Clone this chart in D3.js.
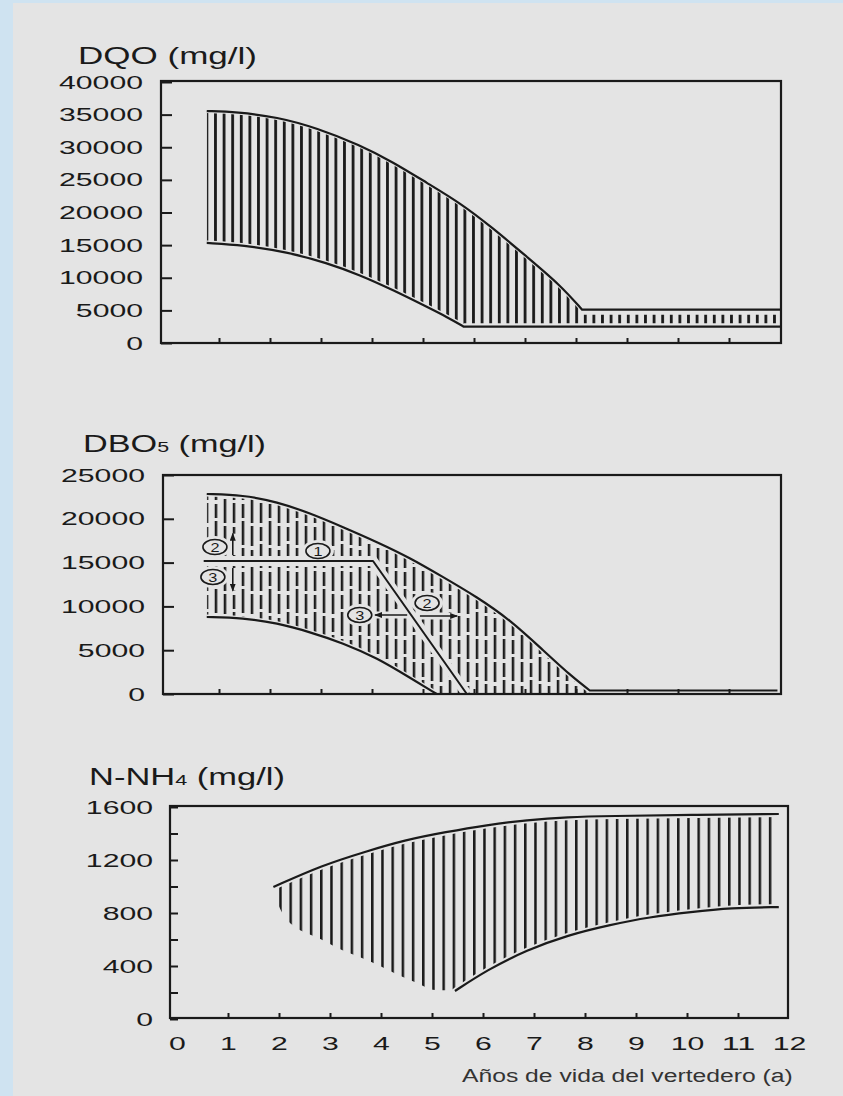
<!DOCTYPE html>
<html>
<head>
<meta charset="utf-8">
<script src="https://cdn.jsdelivr.net/npm/d3@7"></script>
<style>
  body { margin: 0; background: #cfe3f1; }
  svg { display: block; font-family: "Liberation Sans", Arial, sans-serif; }
</style>
</head>
<body>
<svg id="chart" width="843" height="1096"></svg>
<script>
// values, [year, mg/l]
var dqoUpper = [[0.76,35550],[1.35,35400],[2.14,34640],[2.92,32950],[3.76,30340],[4.41,27740],[5.08,24520],[5.73,21460],[6.37,17620],[7.04,13180],[7.69,8890],[8.12,5100],[12,5100]];
var dqoLower = [[0.76,15330],[1.47,15020],[2.33,13950],[3.12,12260],[3.76,10420],[4.41,8120],[5.08,5520],[5.47,3980],[5.8,2500],[12,2500]];

var dboUpper = [[0.76,22830],[1.47,22720],[2.14,21920],[2.78,20660],[3.43,19060],[4.1,17350],[4.75,15530],[5.39,13360],[6.06,11070],[6.71,8450],[7.35,5020],[7.88,2170],[8.27,400],[11.95,400]];
var dboLower = [[0.76,8790],[1.47,8680],[2.14,8100],[2.78,7080],[3.43,5820],[4.1,4110],[4.75,1830],[5.27,0]];
var dboSplit = [[0.7,15180],[4.02,15180],[5.86,0]];
var dboMarks = [
  { label: "2", t: 0.92, v: 16780 },
  { label: "1", t: 2.94, v: 16320 },
  { label: "3", t: 0.88, v: 13360 },
  { label: "3", t: 3.76, v: 9020 },
  { label: "2", t: 5.08, v: 10390 }
];
var dboArrows = [
  { from: [1.27, 15870], to: [1.27, 18300] },
  { from: [1.27, 14380], to: [1.27, 11800] },
  { from: [4.69, 9020], to: [4.06, 9020] },
  { from: [4.94, 8900], to: [5.67, 8900] }
];

var nh4Upper = [[1.89,996],[2.86,1162],[3.67,1260],[4.47,1351],[5.27,1411],[6.08,1464],[6.86,1502],[7.67,1525],[8.47,1532],[10.08,1540],[11.8,1547]];
var nh4Lower = [[5.45,211],[6.08,370],[6.86,521],[7.67,634],[8.47,709],[9.27,770],[10.08,808],[10.86,838],[11.8,845]];
// ends of the hatch strokes on the left, where no line is drawn
var nh4HatchEdge = [[1.89,990],[2.03,785],[2.39,659],[2.79,617],[3.19,521],[3.59,470],[3.99,400],[4.39,319],[4.75,269],[4.95,219],[5.19,219]];

var dqoTicks = [0,5000,10000,15000,20000,25000,30000,35000,40000];
var dboTicks = [0,5000,10000,15000,20000,25000];
var nh4Ticks = [0,200,400,600,800,1000,1200,1400,1600];
var nh4Labels = [0,400,800,1200,1600];
var innerYears = [1,2,3,4,5,6,7,8,9,10,11];
var yearLabels = [0,1,2,3,4,5,6,7,8,9,10,11,12];

var ink = "#1a1a1a", paper = "#e4e4e4";
var fontStack = '"Liberation Sans", Arial, sans-serif';

var svg = d3.select("#chart");
var defs = svg.append("defs");

svg.append("rect")
    .attr("x", 13).attr("y", 3)
    .attr("width", 830).attr("height", 1093)
    .attr("fill", paper);

// stretch text horizontally, the scanned lettering is very wide
function stretchDigits(sel, xPos) {
    sel.each(function () {
        var n = this.textContent.length;
        if (!n) return;
        var sx = 16.8 * n / this.getComputedTextLength();
        d3.select(this).attr("x", xPos / sx).attr("transform", `scale(${sx},1)`);
    });
}

function fitText(sel, x, y, width) {
    var sx = width / sel.node().getComputedTextLength();
    sel.attr("transform", `translate(${x},${y}) scale(${sx},1)`);
}

function makePanel(o) {
    var p = Object.assign({}, o);
    p.x = d3.scaleLinear().domain([0, 12]).range([o.x0, o.x12]);
    p.y = d3.scaleLinear().domain([0, o.max]).range([o.yZero, o.yMax]);
    p.g = svg.append("g");
    return p;
}

// smooth curve, then the last `tail` points joined straight (sharp corner)
function bandLine(p, pts, tail) {
    var curved = pts.slice(0, pts.length - tail);
    var d = d3.line().x(q => p.x(q[0])).y(q => p.y(q[1])).curve(d3.curveBasis)(curved);
    pts.slice(pts.length - tail).forEach(q => { d += "L" + p.x(q[0]) + "," + p.y(q[1]); });
    return d;
}

function closeTo(p, pts, d, yPx) {
    return d + "L" + p.x(pts[pts.length - 1][0]) + "," + yPx + "L" + p.x(pts[0][0]) + "," + yPx + "Z";
}

function hatch(p, id, underD, aboveDs, patternId) {
    defs.append("clipPath").attr("id", id + "-u").append("path").attr("d", underD);
    var ca = defs.append("clipPath").attr("id", id + "-a");
    aboveDs.forEach(d => ca.append("path").attr("d", d));
    p.g.append("g").attr("clip-path", `url(#${id}-u)`)
        .append("g").attr("clip-path", `url(#${id}-a)`)
        .append("rect")
        .attr("x", p.left).attr("y", p.top)
        .attr("width", p.right - p.left).attr("height", p.bottom - p.top)
        .attr("fill", `url(#${patternId})`);
}

function halo(p, d, w) {
    p.g.append("path").attr("d", d).attr("fill", "none")
        .attr("stroke", paper).attr("stroke-width", w);
}

function inkLine(p, d, w) {
    p.g.append("path").attr("d", d).attr("fill", "none")
        .attr("stroke", ink).attr("stroke-width", w || 2.2)
        .attr("stroke-linejoin", "round");
}

function frame(p) {
    p.g.append("rect")
        .attr("x", p.left).attr("y", p.top)
        .attr("width", p.right - p.left).attr("height", p.bottom - p.top)
        .attr("fill", "none").attr("stroke", ink).attr("stroke-width", 2.2);
}

function yAxis(p, ticks, labels, len, pad) {
    var a = p.g.append("g")
        .attr("transform", `translate(${p.left},0)`)
        .call(d3.axisLeft(p.y).tickValues(ticks).tickSize(-len).tickSizeOuter(0)
            .tickPadding(pad).tickFormat(d => labels.indexOf(d) >= 0 ? d : ""));
    a.select(".domain").remove();
    a.attr("font-family", fontStack).attr("font-size", 19);
    a.selectAll(".tick line").attr("stroke", ink).attr("stroke-width", 2);
    a.selectAll(".tick text").attr("fill", ink);
    stretchDigits(a.selectAll(".tick text"), -pad);
    return a;
}

function xTicks(p, len) {
    var a = p.g.append("g")
        .attr("transform", `translate(0,${p.bottom})`)
        .call(d3.axisBottom(p.x).tickValues(innerYears).tickSize(-len).tickSizeOuter(0).tickFormat(""));
    a.select(".domain").remove();
    a.selectAll(".tick line").attr("stroke", ink).attr("stroke-width", 2);
    return a;
}

function hatchPattern(id, step, x0, width) {
    var pat = defs.append("pattern").attr("id", id)
        .attr("patternUnits", "userSpaceOnUse")
        .attr("x", x0 - 1.3).attr("y", 0)
        .attr("width", step).attr("height", 20);
    pat.append("rect").attr("width", width).attr("x", 0).attr("height", 20).attr("fill", ink);
}

// ---------- DQO ----------
var p1 = makePanel({ left: 161, right: 781, top: 81, bottom: 343, x0: 168, x12: 780, yZero: 343, yMax: 82, max: 40000 });
hatchPattern("hatch-dqo", 8.6, p1.x(dqoUpper[0][0]), 2.8);

var d1u = bandLine(p1, dqoUpper, 1), d1l = bandLine(p1, dqoLower, 1);
hatch(p1, "c1", closeTo(p1, dqoUpper, d1u, p1.bottom + 4), [closeTo(p1, dqoLower, d1l, p1.top - 4)], "hatch-dqo");
halo(p1, d1u, 4); halo(p1, d1l, 5);
// the late flat band has short dashes only
halo(p1, bandLine(p1, dqoUpper.slice(-2), 1), 10);
halo(p1, bandLine(p1, dqoLower.slice(-2), 1), 7);
inkLine(p1, d1u); inkLine(p1, d1l);
frame(p1);
yAxis(p1, dqoTicks, dqoTicks, 11, 18);
xTicks(p1, 5);

p1.g.append("text").attr("fill", ink).attr("font-size", 24).text("DQO (mg/l)")
    .call(fitText, 78, 64, 179);

// ---------- DBO5 ----------
var p2 = makePanel({ left: 163, right: 781, top: 475, bottom: 694, x0: 168, x12: 780, yZero: 694, yMax: 475, max: 25000 });
var pat2 = defs.append("pattern").attr("id", "hatch-dbo")
    .attr("patternUnits", "userSpaceOnUse")
    .attr("x", p2.x(dboUpper[0][0]) - 1).attr("y", 0)
    .attr("width", 27).attr("height", 68);
[0, 23, 45].forEach((off, i) => {
    pat2.append("line")
        .attr("x1", 1.2 + i * 9).attr("x2", 1.2 + i * 9)
        .attr("y1", 0).attr("y2", 68)
        .attr("stroke", ink).attr("stroke-width", 2.5)
        .attr("stroke-dasharray", "24 3 20 4 14 3")
        .attr("stroke-dashoffset", off);
});

var d2u = bandLine(p2, dboUpper, 1), d2l = bandLine(p2, dboLower, 0);
var lastLow = dboLower[dboLower.length - 1];
hatch(p2, "c2", closeTo(p2, dboUpper, d2u, p2.bottom + 4), [
    closeTo(p2, dboLower, d2l, p2.top - 4),
    `M${p2.x(lastLow[0])},${p2.top}H${p2.right}V${p2.bottom + 4}H${p2.x(lastLow[0])}Z`
], "hatch-dbo");

var dSplit = d3.line().x(q => p2.x(q[0])).y(q => p2.y(q[1]))(dboSplit);
halo(p2, d2u, 5); halo(p2, d2l, 5); halo(p2, dSplit, 10);

defs.append("marker").attr("id", "head")
    .attr("markerUnits", "userSpaceOnUse")
    .attr("viewBox", "0 0 8 6").attr("refX", 7).attr("refY", 3)
    .attr("markerWidth", 8).attr("markerHeight", 6).attr("orient", "auto")
    .append("path").attr("d", "M0,0L8,3L0,6Z").attr("fill", ink);

dboArrows.forEach(a => {
    var d = d3.line()([[p2.x(a.from[0]), p2.y(a.from[1])], [p2.x(a.to[0]), p2.y(a.to[1])]]);
    halo(p2, d, 7);
});
p2.g.selectAll("ellipse.halo").data(dboMarks).join("ellipse")
    .attr("cx", d => p2.x(d.t)).attr("cy", d => p2.y(d.v))
    .attr("rx", 16).attr("ry", 11).attr("fill", paper);

inkLine(p2, d2u); inkLine(p2, d2l); inkLine(p2, dSplit, 2);

var marks = p2.g.selectAll("g.mark").data(dboMarks).join("g")
    .attr("transform", d => `translate(${p2.x(d.t)},${p2.y(d.v)})`);
marks.append("ellipse").attr("rx", 12).attr("ry", 7.5)
    .attr("fill", paper).attr("stroke", ink).attr("stroke-width", 1.6);
marks.append("text").attr("text-anchor", "middle").attr("dy", "0.36em")
    .attr("font-size", 13).attr("fill", ink)
    .attr("transform", "scale(1.25,1)")
    .text(d => d.label);

dboArrows.forEach(a => {
    p2.g.append("line")
        .attr("x1", p2.x(a.from[0])).attr("y1", p2.y(a.from[1]))
        .attr("x2", p2.x(a.to[0])).attr("y2", p2.y(a.to[1]))
        .attr("stroke", ink).attr("stroke-width", 1.6)
        .attr("marker-end", "url(#head)");
});

frame(p2);
yAxis(p2, dboTicks, dboTicks, 11, 18);
xTicks(p2, 5);

var t2 = p2.g.append("text").attr("fill", ink).attr("font-size", 24);
t2.append("tspan").text("DBO");
t2.append("tspan").attr("font-size", 15).text("5");
t2.append("tspan").text(" (mg/l)");
t2.call(fitText, 83, 452, 183);

// ---------- N-NH4 ----------
var p3 = makePanel({ left: 170, right: 788, top: 806, bottom: 1018, x0: 177, x12: 789, yZero: 1019, yMax: 807, max: 1600 });
hatchPattern("hatch-nh4", 10.2, p3.x(nh4HatchEdge[1][0]), 2.5);

var d3u = bandLine(p3, nh4Upper, 0), d3l = bandLine(p3, nh4Lower, 0);
var edge = nh4HatchEdge.concat(nh4Lower);
var dEdge = bandLine(p3, edge, 0);
hatch(p3, "c3", closeTo(p3, nh4Upper, d3u, p3.bottom + 4), [closeTo(p3, edge, dEdge, p3.top - 4)], "hatch-nh4");
halo(p3, d3u, 6); halo(p3, d3l, 6);
inkLine(p3, d3u); inkLine(p3, d3l);
frame(p3);
yAxis(p3, nh4Ticks, nh4Labels, 8, 17);

var xa = p3.g.append("g")
    .attr("transform", `translate(0,${p3.bottom})`)
    .call(d3.axisBottom(p3.x).tickValues(yearLabels).tickSize(-5).tickSizeOuter(0).tickPadding(19));
xa.select(".domain").remove();
xa.attr("font-family", fontStack).attr("font-size", 19);
xa.selectAll(".tick line").attr("stroke", ink).attr("stroke-width", 2);
xa.selectAll(".tick line").filter(d => d === 0 || d === 12).remove();
xa.selectAll(".tick text").attr("fill", ink);
stretchDigits(xa.selectAll(".tick text"), 0);

var t3 = p3.g.append("text").attr("fill", ink).attr("font-size", 24);
t3.append("tspan").text("N-NH");
t3.append("tspan").attr("font-size", 15).text("4");
t3.append("tspan").text(" (mg/l)");
t3.call(fitText, 89, 785, 196);

svg.append("text").attr("fill", "#333").attr("font-size", 19)
    .text("Años de vida del vertedero (a)")
    .call(fitText, 462, 1082, 331);
</script>
</body>
</html>
